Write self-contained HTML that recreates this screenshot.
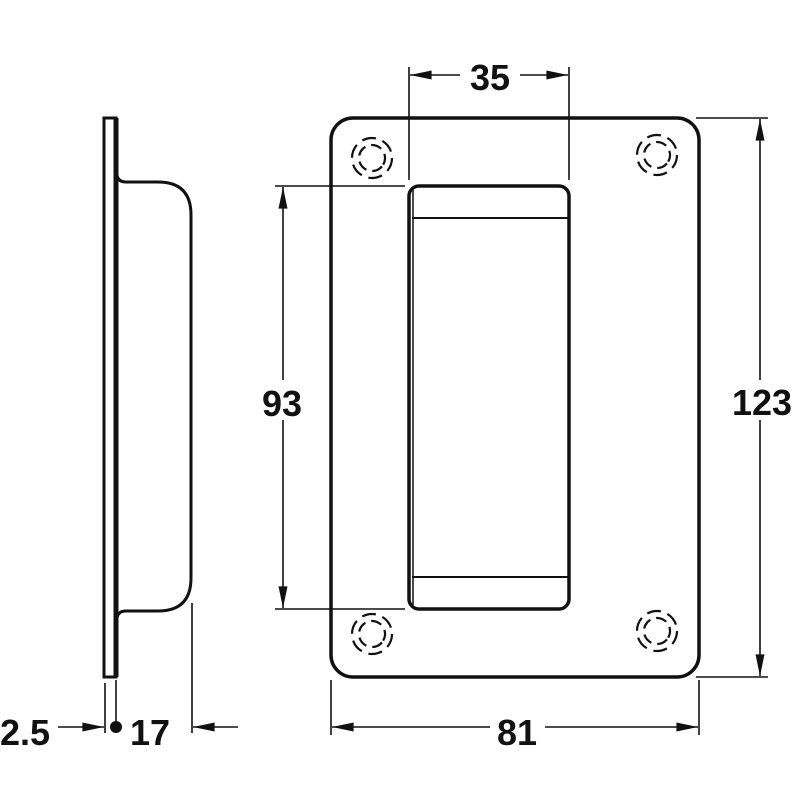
<!DOCTYPE html>
<html><head><style>body{margin:0;background:#fff}svg{display:block}text{font-family:"Liberation Sans",sans-serif;font-weight:bold;font-size:36px;fill:#111}</style></head>
<body>
<svg width="800" height="800" viewBox="0 0 800 800" xmlns="http://www.w3.org/2000/svg">
<defs>
<marker id="a" viewBox="0 0 24 10" refX="24" refY="5" markerWidth="24" markerHeight="9" markerUnits="userSpaceOnUse" orient="auto"><path d="M0,0 L24,5 L0,10 Z" fill="#111"/></marker>
</defs>
<g stroke="#111" fill="none">
<rect x="104" y="118" width="12" height="559" stroke-width="3"/>
<line x1="116" y1="118" x2="116" y2="677" stroke-width="5"/>
<path d="M117,175 Q118,182 126,182 L158,182 Q191,182 191,215 L191,578 Q191,611 158,611 L126,611 Q118,611 117,618" stroke-width="3"/>
<rect x="331" y="118" width="368" height="559" rx="22" stroke-width="3.5"/>
<rect x="409" y="186" width="160" height="423" rx="10" stroke-width="3.5"/>
<line x1="413" y1="190" x2="413" y2="605" stroke-width="1.5"/>
<line x1="412" y1="218" x2="568" y2="218" stroke-width="2"/>
<line x1="412" y1="577" x2="568" y2="577" stroke-width="2"/>
<g stroke-width="2.2">
<g transform="translate(372,158)"><circle r="20" stroke-dasharray="14 7"/><circle r="13" stroke-dasharray="11 6" transform="rotate(40)"/></g>
<g transform="translate(657,155)"><circle r="20" stroke-dasharray="14 7"/><circle r="13" stroke-dasharray="11 6" transform="rotate(40)"/></g>
<g transform="translate(372,634)"><circle r="20" stroke-dasharray="14 7"/><circle r="13" stroke-dasharray="11 6" transform="rotate(40)"/></g>
<g transform="translate(657,631)"><circle r="20" stroke-dasharray="14 7"/><circle r="13" stroke-dasharray="11 6" transform="rotate(40)"/></g>
</g>
<g stroke-width="1.6">
<line x1="409" y1="67" x2="409" y2="180"/>
<line x1="569" y1="67" x2="569" y2="180"/>
<line x1="460" y1="75" x2="410" y2="75" marker-end="url(#a)"/>
<line x1="520" y1="75" x2="568" y2="75" marker-end="url(#a)"/>
<line x1="696" y1="118" x2="768" y2="118"/>
<line x1="696" y1="677" x2="768" y2="677"/>
<line x1="760" y1="380" x2="760" y2="119" marker-end="url(#a)"/>
<line x1="760" y1="420" x2="760" y2="676" marker-end="url(#a)"/>
<line x1="275" y1="186" x2="405" y2="186"/>
<line x1="275" y1="609" x2="405" y2="609"/>
<line x1="283" y1="380" x2="283" y2="187" marker-end="url(#a)"/>
<line x1="283" y1="420" x2="283" y2="608" marker-end="url(#a)"/>
<line x1="331" y1="680" x2="331" y2="735"/>
<line x1="699" y1="680" x2="699" y2="735"/>
<line x1="490" y1="727" x2="332" y2="727" marker-end="url(#a)"/>
<line x1="545" y1="727" x2="698" y2="727" marker-end="url(#a)"/>
<line x1="105" y1="683" x2="105" y2="733"/>
<line x1="116" y1="680" x2="116" y2="725"/>
<line x1="58" y1="727" x2="104" y2="727" marker-end="url(#a)"/>
<line x1="192" y1="603" x2="192" y2="733"/>
<line x1="238" y1="727" x2="193" y2="727" marker-end="url(#a)"/>
</g>
</g>
<circle cx="116" cy="727" r="6" fill="#111"/>
<text x="490" y="90" text-anchor="middle">35</text>
<text x="762" y="415" text-anchor="middle">123</text>
<text x="282" y="416" text-anchor="middle">93</text>
<text x="517" y="745" text-anchor="middle">81</text>
<text x="25" y="745" text-anchor="middle">2.5</text>
<text x="150" y="745" text-anchor="middle">17</text>
</svg>
</body></html>
